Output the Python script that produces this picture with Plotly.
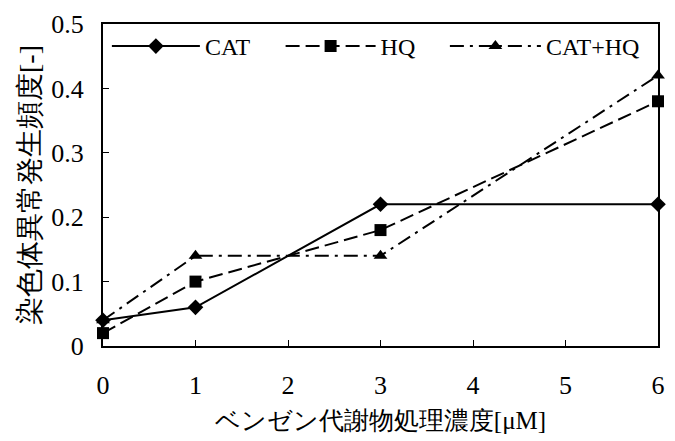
import plotly.graph_objects as go

x_vals = [0, 1, 3, 6]
cat = [0.04, 0.06, 0.22, 0.22]
hq = [0.02, 0.10, 0.18, 0.38]
cat_hq = [0.04, 0.14, 0.14, 0.42]
x_ticks = [0, 1, 2, 3, 4, 5, 6]
y_ticks = [0, 0.1, 0.2, 0.3, 0.4, 0.5]
y_tick_text = ["0", "0.1", "0.2", "0.3", "0.4", "0.5"]

FONT = "Liberation Serif, Times New Roman, serif"

fig = go.Figure()
fig.add_trace(go.Scatter(x=x_vals, y=cat, name="CAT", mode="lines+markers",
                         line=dict(color="black", width=2, dash="solid"),
                         marker=dict(symbol="diamond", size=12, color="black"),
                         cliponaxis=False, legend="legend"))
fig.add_trace(go.Scatter(x=x_vals, y=hq, name="HQ", mode="lines+markers",
                         line=dict(color="black", width=2, dash="14px,6px"),
                         marker=dict(symbol="square", size=12, color="black"),
                         cliponaxis=False, legend="legend2"))
fig.add_trace(go.Scatter(x=x_vals, y=cat_hq, name="CAT+HQ", mode="lines+markers",
                         line=dict(color="black", width=2, dash="14px,6px,3px,6px"),
                         marker=dict(symbol="triangle-up", size=12, color="black"),
                         cliponaxis=False, legend="legend3"))

def leg(xpos, iw):
    return dict(orientation="h", x=xpos, y=1.0, xanchor="left", yanchor="top",
                bgcolor="rgba(255,255,255,0)", itemwidth=iw,
                font=dict(family=FONT, size=24))

fig.update_layout(
    width=675, height=441,
    margin=dict(l=103, r=10, t=20, b=95),
    paper_bgcolor="white", plot_bgcolor="white",
    font=dict(family=FONT, size=25, color="black"),
    showlegend=True,
    legend=leg(0.007, 88),
    legend2=leg(0.320, 90),
    legend3=leg(0.616, 91),
    xaxis=dict(range=[0, 6], tickvals=x_ticks, ticks="inside", ticklen=6,
               tickwidth=1, tickcolor="black", showline=True, linecolor="black",
               linewidth=2, mirror=True, showgrid=False, zeroline=False,
               ticklabelstandoff=15, tickfont=dict(family=FONT, size=26),
               title=dict(text="ベンゼン代謝物処理濃度[μM]", standoff=12,
                          font=dict(family=FONT, size=25))),
    yaxis=dict(range=[0, 0.5], tickvals=y_ticks, ticktext=y_tick_text,
               ticks="inside", ticklen=6, tickwidth=1, tickcolor="black",
               showline=True, linecolor="black", linewidth=2, mirror=True,
               showgrid=False, zeroline=False, ticklabelstandoff=12,
               tickfont=dict(family=FONT, size=26),
               title=dict(text="染色体異常発生頻度[-]", standoff=3,
                          font=dict(family=FONT, size=28))),
)

fig.write_html("out.html")
